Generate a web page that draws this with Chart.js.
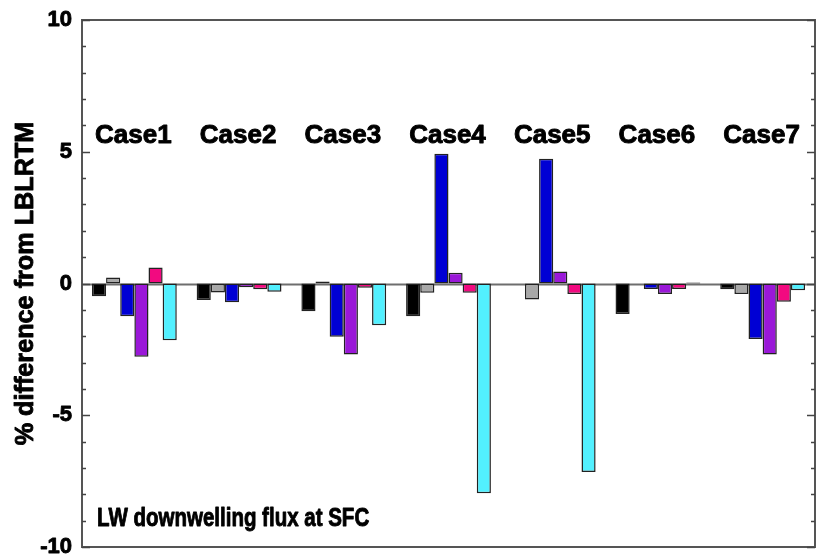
<!DOCTYPE html>
<html>
<head>
<meta charset="utf-8">
<script src="https://cdn.jsdelivr.net/npm/chart.js@4.4.1/dist/chart.umd.min.js"></script>
<style>
  html, body { margin: 0; padding: 0; background: #fff; }
  #wrap { width: 817px; height: 554px; }
</style>
</head>
<body>
<div id="wrap"><canvas id="flux" width="817" height="554"></canvas></div>
<script>
// % difference from LBLRTM, LW downwelling flux at the surface
const cases = ['Case1', 'Case2', 'Case3', 'Case4', 'Case5', 'Case6', 'Case7'];

const barsBlack  = [-0.48, -0.63, -1.05, -1.24,  0.00, -1.16, -0.22];
const barsGray   = [ 0.23, -0.34,  0.08, -0.35, -0.61,  0.00, -0.40];
const barsBlue   = [-1.24, -0.71, -2.02,  4.92,  4.73, -0.21, -2.11];
const barsPurple = [-2.78, -0.14, -2.69,  0.41,  0.46, -0.40, -2.69];
const barsPink   = [ 0.61, -0.22, -0.16, -0.35, -0.40, -0.21, -0.69];
const barsCyan   = [-2.15, -0.31, -1.58, -7.96, -7.15,  0.04, -0.26];

const yTicks = [-10, -5, 0, 5, 10];

const series = [
  { data: barsBlack,  color: '#000000' },
  { data: barsGray,   color: '#a8a8a8' },
  { data: barsBlue,   color: '#0000d4' },
  { data: barsPurple, color: '#9a18d8' },
  { data: barsPink,   color: '#f20a80' },
  { data: barsCyan,   color: '#52f0ff' },
];

const FONT = '"Liberation Sans", Arial, Helvetica, sans-serif';

// heavy bold text, squeezed/stretched horizontally by sx
function drawText(ctx, text, x, y, size, sx, align) {
  ctx.save();
  ctx.font = 'bold ' + size + 'px ' + FONT;
  ctx.fillStyle = '#000';
  ctx.strokeStyle = '#000';
  ctx.lineWidth = 0.9;
  ctx.lineJoin = 'round';
  ctx.textBaseline = 'alphabetic';
  ctx.textAlign = align || 'left';
  ctx.translate(x, y);
  ctx.scale(sx, 1);
  ctx.fillText(text, 0, 0);
  ctx.strokeText(text, 0, 0);
  ctx.restore();
}

const zeroLine = {
  id: 'zeroLine',
  beforeDatasetsDraw(chart) {
    const { ctx, chartArea: a, scales: { y } } = chart;
    const py = Math.round(y.getPixelForValue(0)) + 0.5;
    ctx.save();
    ctx.strokeStyle = '#6e6e6e';
    ctx.lineWidth = 2;
    ctx.beginPath();
    ctx.moveTo(a.left, py);
    ctx.lineTo(a.right, py);
    ctx.stroke();
    ctx.restore();
  }
};

const frame = {
  id: 'frame',
  afterDraw(chart) {
    const { ctx, chartArea: a, scales: { x, y } } = chart;
    ctx.save();

    // box
    ctx.strokeStyle = '#555';
    ctx.lineWidth = 2;
    ctx.strokeRect(a.left, a.top, a.right - a.left, a.bottom - a.top);

    // inward ticks, left and right
    ctx.strokeStyle = '#444';
    ctx.lineWidth = 1.5;
    ctx.beginPath();
    for (let v = -10; v <= 10; v++) {
      const py = Math.round(y.getPixelForValue(v)) + 0.5;
      const len = v % 5 === 0 ? 8 : 4;
      ctx.moveTo(a.left, py);  ctx.lineTo(a.left + len, py);
      ctx.moveTo(a.right, py); ctx.lineTo(a.right - len, py);
    }
    ctx.stroke();
    ctx.restore();

    // y tick labels (baseline a little below the tick)
    yTicks.forEach(v => {
      drawText(ctx, String(v), a.left - 10, y.getPixelForValue(v) + 6, 22, 1.0, 'right');
    });

    // case names over each group
    const labelY = y.getPixelForValue(5.33);
    cases.forEach((c, i) => {
      drawText(ctx, c, x.getPixelForValue(i) - 1, labelY, 25, 1.04, 'center');
    });

    // note in the lower left corner
    drawText(ctx, 'LW downwelling flux at SFC', a.left + 15, y.getPixelForValue(-9.22), 25, 0.82, 'left');

    // y axis title
    ctx.save();
    ctx.translate(33, (a.top + a.bottom) / 2);
    ctx.rotate(-Math.PI / 2);
    drawText(ctx, '% difference from LBLRTM', 0, 0, 26, 0.97, 'center');
    ctx.restore();
  }
};

new Chart(document.getElementById('flux'), {
  type: 'bar',
  data: {
    labels: cases,
    datasets: series.map(s => ({
      data: s.data,
      backgroundColor: s.color,
      borderColor: '#222',
      borderWidth: 1.5,
      borderSkipped: false,
      categoryPercentage: 0.81,
      barPercentage: 1.0,
    }))
  },
  options: {
    responsive: false,
    animation: false,
    events: [],
    layout: { padding: { top: 20, right: 2, bottom: 7, left: 82 } },
    plugins: {
      legend: { display: false },
      tooltip: { enabled: false },
    },
    scales: {
      x: { display: false },
      y: {
        display: false,
        min: -10, max: 10,
        ticks: { stepSize: 1 }
      }
    }
  },
  plugins: [zeroLine, frame]
});
</script>
</body>
</html>
